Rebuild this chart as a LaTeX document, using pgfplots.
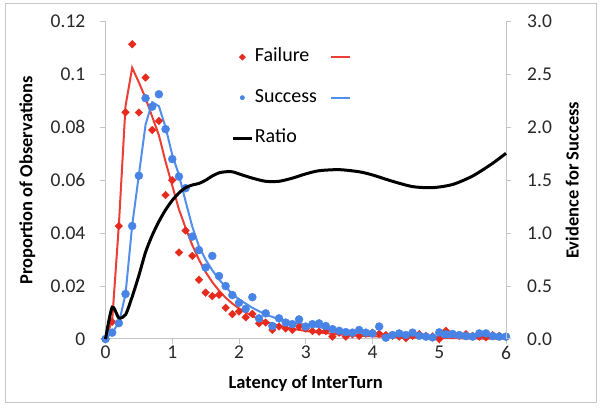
\documentclass[border=0pt]{standalone}
\usepackage{fontspec}
\setmainfont{Carlito}
\usepackage{pgfplots}
\pgfplotsset{compat=1.18}
\definecolor{redF}{RGB}{230,42,30}
\definecolor{redL}{RGB}{236,62,52}
\definecolor{blueS}{RGB}{72,132,230}
\definecolor{blueL}{RGB}{84,142,236}
\definecolor{axgray}{RGB}{196,196,196}
\definecolor{txt}{RGB}{40,40,40}
\pgfplotsset{
  base/.style={
    at={(105.5pt,72pt)}, anchor=south west, scale only axis,
    width=400.5pt, height=317.5pt, xmin=0, xmax=6,
    axis line style={axgray, line width=1pt},
    tick style={axgray, line width=1pt},
    major tick length=5pt, tick align=outside,
    tick label style={font=\fontsize{19.5}{22}\selectfont, text=txt, inner sep=2pt},
    label style={font=\bfseries\fontsize{18.5}{22}\selectfont, text=black},
    clip=false,
  },
  markleg/.style={legend image code/.code={\draw[mark repeat=2,mark phase=2,##1, mark size=2.2pt] plot coordinates {(0pt,0pt)(9pt,0pt)(18pt,0pt)};}},
  lineleg/.style={legend image code/.code={\draw[##1] (0pt,0pt) -- (19pt,0pt);}},
}
\begin{document}
\begin{tikzpicture}[x=1pt,y=1pt]
\path[use as bounding box] (0,0) rectangle (600,411);
\draw[black!22, line width=1pt] (5,8) rectangle (596.5,407);
\begin{axis}[base,
  ymin=0, ymax=0.12,
  axis x line*=bottom, axis y line*=left,
  xtick={0,1,2,3,4,5,6}, xticklabels={0,1,2,3,4,5,6},
  ytick={0,0.02,0.04,0.06,0.08,0.1,0.12},
  yticklabels={0,0.02,0.04,0.06,0.08,0.1,0.12},
  yticklabel style={xshift=-13pt},
  xlabel={Latency of InterTurn},
  ylabel={Proportion of Observations},
  xlabel style={at={(axis description cs:0.5,-0.139)}, anchor=center},
  ylabel style={at={(axis description cs:-0.195,0.5)}, anchor=center},
  legend columns=2,
  legend style={at={(axis description cs:0.315,0.915)}, anchor=north west,
    draw=none, fill=none, inner sep=0pt,
    font=\fontsize{20}{22}\selectfont,
    nodes={inner sep=0pt, text height=13pt, text depth=4pt},
    row sep=23.5pt,
    /tikz/every odd column/.append style={column sep=1pt},
    /tikz/every even column/.append style={column sep=13pt}},
  legend cell align=left,
]
\addplot[only marks, mark=square*, mark options={rotate=45}, mark size=2.7pt, color=redF, markleg]
coordinates {
(0.0,0) (0.1,0.0065) (0.2,0.0427) (0.3,0.0857) (0.4,0.1114) (0.5,0.0856)
(0.6,0.0988) (0.7,0.079) (0.8,0.0824) (0.9,0.0544) (1.0,0.060) (1.1,0.0327)
(1.2,0.041) (1.3,0.0314) (1.4,0.0224) (1.5,0.0175) (1.6,0.0162) (1.7,0.0167)
(1.8,0.0118) (1.9,0.0094) (2.0,0.0104) (2.1,0.0082) (2.2,0.0095) (2.3,0.0059)
(2.4,0.0062) (2.5,0.0034) (2.6,0.0047) (2.7,0.004) (2.8,0.0034) (2.9,0.0047)
(3.0,0.004) (3.1,0.003) (3.2,0.0028) (3.3,0.003) (3.4,0.0009) (3.5,0.0024)
(3.6,0.0009) (3.7,0.0018) (3.8,0.0012) (3.9,0.002) (4.0,0.0024) (4.1,0.002)
(4.2,0.0015) (4.3,0.0012) (4.4,0.0009) (4.5,0.0003) (4.6,0.0012) (4.7,0.0018)
(4.8,0.0012) (4.9,0.001) (5.0,0.0) (5.1,0.0031) (5.2,0.0015) (5.3,0.0012)
(5.4,0.0018) (5.5,0.0012) (5.6,0.0009) (5.7,0.0006) (5.8,0.0015) (5.9,0.0012)
(6.0,0.0009)
};
\addlegendentry{Failure}
\addplot[redL, line width=2pt, mark=none, lineleg]
coordinates {
(0,0) (0.1,0.007) (0.2,0.043) (0.3,0.088) (0.4,0.1025) (0.5,0.097)
(0.6,0.091) (0.7,0.084) (0.8,0.077) (0.9,0.067) (1.0,0.058) (1.1,0.049)
(1.2,0.042) (1.3,0.0355) (1.4,0.030) (1.5,0.0253) (1.6,0.0215) (1.7,0.0183)
(1.8,0.0156) (1.9,0.0134) (2.0,0.0115) (2.2,0.0086) (2.4,0.0065) (2.6,0.005)
(2.8,0.0039) (3.0,0.003) (3.5,0.0017) (4.0,0.001) (4.5,0.0006) (5.0,0.0004)
(5.5,0.0002) (6.0,0.0001)
};
\addlegendentry{}
\addplot[only marks, mark=*, mark size=4pt, color=blueS, markleg]
coordinates {
(0.0,0) (0.1,0.0024) (0.2,0.006) (0.3,0.017) (0.4,0.0427) (0.5,0.0617)
(0.6,0.091) (0.7,0.0878) (0.8,0.0925) (0.9,0.0793) (1.0,0.068) (1.1,0.0614)
(1.2,0.057) (1.3,0.0387) (1.4,0.0336) (1.5,0.027) (1.6,0.0314) (1.7,0.0238)
(1.8,0.020) (1.9,0.0166) (2.0,0.0137) (2.1,0.0114) (2.2,0.0158) (2.3,0.0078)
(2.4,0.0097) (2.5,0.0049) (2.6,0.0078) (2.7,0.0062) (2.8,0.0056) (2.9,0.0074)
(3.0,0.0047) (3.1,0.0056) (3.2,0.0059) (3.3,0.0049) (3.4,0.0037) (3.5,0.0031)
(3.6,0.0026) (3.7,0.0024) (3.8,0.0034) (3.9,0.0024) (4.0,0.0021) (4.1,0.0047)
(4.2,0.0005) (4.3,0.0015) (4.4,0.0021) (4.5,0.0015) (4.6,0.0024) (4.7,0.0012)
(4.8,0.0009) (4.9,0.0006) (5.0,0.0025) (5.1,0.0018) (5.2,0.0019) (5.3,0.0015)
(5.4,0.0011) (5.5,0.0009) (5.6,0.0021) (5.7,0.0021) (5.8,0.0011) (5.9,0.0009)
(6.0,0.0009)
};
\addlegendentry{Success}
\addplot[blueL, line width=2pt, mark=none, lineleg]
coordinates {
(0,0) (0.1,0.0025) (0.2,0.006) (0.3,0.017) (0.4,0.043) (0.5,0.062)
(0.6,0.081) (0.7,0.0895) (0.8,0.088) (0.9,0.080) (1.0,0.0696) (1.1,0.062)
(1.2,0.052) (1.3,0.0425) (1.4,0.035) (1.5,0.030) (1.6,0.026) (1.7,0.0225)
(1.8,0.0197) (1.9,0.017) (2.0,0.015) (2.2,0.0118) (2.4,0.0092) (2.6,0.0075)
(2.8,0.0063) (3.0,0.0053) (3.5,0.0032) (4.0,0.002) (4.5,0.0013) (5.0,0.0008)
(5.5,0.0005) (6.0,0.0003)
};
\addlegendentry{}
\addlegendimage{black, line width=3pt, lineleg}
\addlegendentry{Ratio}
\end{axis}
\begin{axis}[base,
  ymin=0, ymax=3,
  axis x line=none, axis y line*=right,
  ytick={0,0.5,1,1.5,2,2.5,3},
  yticklabels={0.0,0.5,1.0,1.5,2.0,2.5,3.0},
  yticklabel style={xshift=14pt},
  ylabel={Evidence for Success},
  ylabel style={at={(axis description cs:1.165,0.5)}, anchor=center, rotate=0},
]
\addplot[black, line width=3pt, smooth, tension=0.45, mark=none] coordinates {
(0,0) (0.1,0.30) (0.2,0.20) (0.3,0.23) (0.4,0.40) (0.5,0.60) (0.6,0.82)
(0.7,0.98) (0.8,1.11) (0.9,1.22) (1.0,1.31) (1.1,1.38) (1.2,1.43) (1.3,1.455)
(1.4,1.47) (1.5,1.50) (1.6,1.54) (1.7,1.57) (1.8,1.58) (1.9,1.58) (2.0,1.56)
(2.2,1.52) (2.4,1.49) (2.6,1.49) (2.8,1.52) (3.0,1.56) (3.2,1.59) (3.5,1.60)
(3.8,1.58) (4.0,1.55) (4.3,1.49) (4.6,1.44) (4.9,1.43) (5.2,1.46) (5.5,1.54)
(5.8,1.66) (6.0,1.755)
};
\end{axis}
\end{tikzpicture}
\end{document}
